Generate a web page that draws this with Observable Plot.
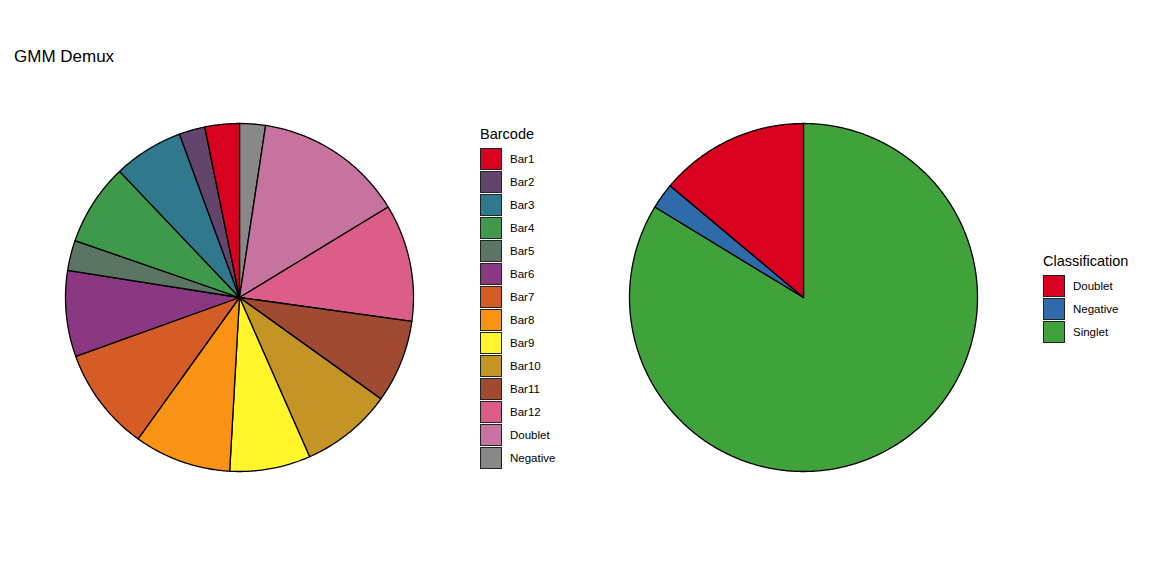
<!DOCTYPE html>
<html>
<head>
<meta charset="utf-8">
<script src="https://cdn.jsdelivr.net/npm/d3@7"></script>
<script src="https://cdn.jsdelivr.net/npm/@observablehq/plot@0.6"></script>
<style>
  body { margin: 0; background: #fff; font-family: "Liberation Sans", Arial, sans-serif; }
  #root { position: relative; width: 1152px; height: 576px; overflow: hidden; }
  .title { position: absolute; left: 14px; top: 47px; font-size: 17px; color: #000; }
  .panel { position: absolute; }
  .legend { position: absolute; color: #000; }
  .legend .lt { font-size: 14.5px; margin-bottom: 5px; white-space: nowrap; }
  .legend .row { display: flex; align-items: center; height: 23px; }
  .legend .key { width: 20px; height: 20px; border: 1.2px solid #222; box-sizing: content-box; }
  .legend .lab { font-size: 11.5px; margin-left: 8px; white-space: nowrap; }
</style>
</head>
<body>
<div id="root">
  <div class="title">GMM Demux</div>
</div>
<script>
// Barcode pie (legend order)
const barcodes = ["Bar1","Bar2","Bar3","Bar4","Bar5","Bar6","Bar7","Bar8","Bar9","Bar10","Bar11","Bar12","Doublet","Negative"];
const barcodeShare = [3.2, 2.4, 6.5, 7.6, 2.8, 8.0, 9.6, 9.0, 7.5, 8.5, 7.7, 10.9, 13.9, 2.4];
const barcodeColors = ["#DA001F","#63456B","#30788E","#3E9A4A","#5A7562","#8A3882","#D55B27","#FA9315","#FFF52A","#C49524","#A04A32","#DB5E8A","#C6739F","#888888"];

// Classification pie (legend order)
const classes = ["Doublet","Negative","Singlet"];
const classShare = [13.9, 2.4, 83.7];
const classColors = ["#DA001F","#2F6BAB","#40A23A"];

function slicePoints(keys, values) {
  // ggplot stacking: last level starts at 12 o'clock, going clockwise
  const total = d3.sum(values);
  const pts = [];
  let acc = 0;
  for (let i = keys.length - 1; i >= 0; i--) {
    const a0 = acc / total * 2 * Math.PI;
    acc += values[i];
    const a1 = acc / total * 2 * Math.PI;
    const n = Math.max(2, Math.ceil((a1 - a0) / (Math.PI / 360)));
    pts.push({key: keys[i], x: 0, y: 0});
    for (let j = 0; j <= n; j++) {
      const a = a0 + (a1 - a0) * j / n;
      pts.push({key: keys[i], x: Math.sin(a), y: Math.cos(a)});
    }
  }
  return pts;
}

function pie(keys, values, colors) {
  return Plot.plot({
    width: 352, height: 352, margin: 2,
    x: {domain: [-1, 1], axis: null},
    y: {domain: [-1, 1], axis: null},
    color: {domain: keys, range: colors},
    marks: [
      Plot.line(slicePoints(keys, values), {
        x: "x", y: "y", z: "key", fill: "key",
        stroke: "black", strokeWidth: 1.3, curve: "linear-closed"
      })
    ]
  });
}

function legend(title, keys, colors) {
  const div = document.createElement("div");
  div.className = "legend";
  const t = document.createElement("div");
  t.className = "lt"; t.textContent = title;
  div.appendChild(t);
  keys.forEach((k, i) => {
    const r = document.createElement("div"); r.className = "row";
    const s = document.createElement("div"); s.className = "key"; s.style.background = colors[i];
    const l = document.createElement("div"); l.className = "lab"; l.textContent = k;
    r.appendChild(s); r.appendChild(l); div.appendChild(r);
  });
  return div;
}

const root = document.getElementById("root");

const p1 = document.createElement("div"); p1.className = "panel";
p1.style.left = "63px"; p1.style.top = "121px";
p1.appendChild(pie(barcodes, barcodeShare, barcodeColors));
root.appendChild(p1);

const l1 = legend("Barcode", barcodes, barcodeColors);
l1.style.left = "480px"; l1.style.top = "126px";
root.appendChild(l1);

const p2 = document.createElement("div"); p2.className = "panel";
p2.style.left = "627px"; p2.style.top = "121px";
p2.appendChild(pie(classes, classShare, classColors));
root.appendChild(p2);

const l2 = legend("Classification", classes, classColors);
l2.style.left = "1043px"; l2.style.top = "253px";
root.appendChild(l2);
</script>
</body>
</html>
